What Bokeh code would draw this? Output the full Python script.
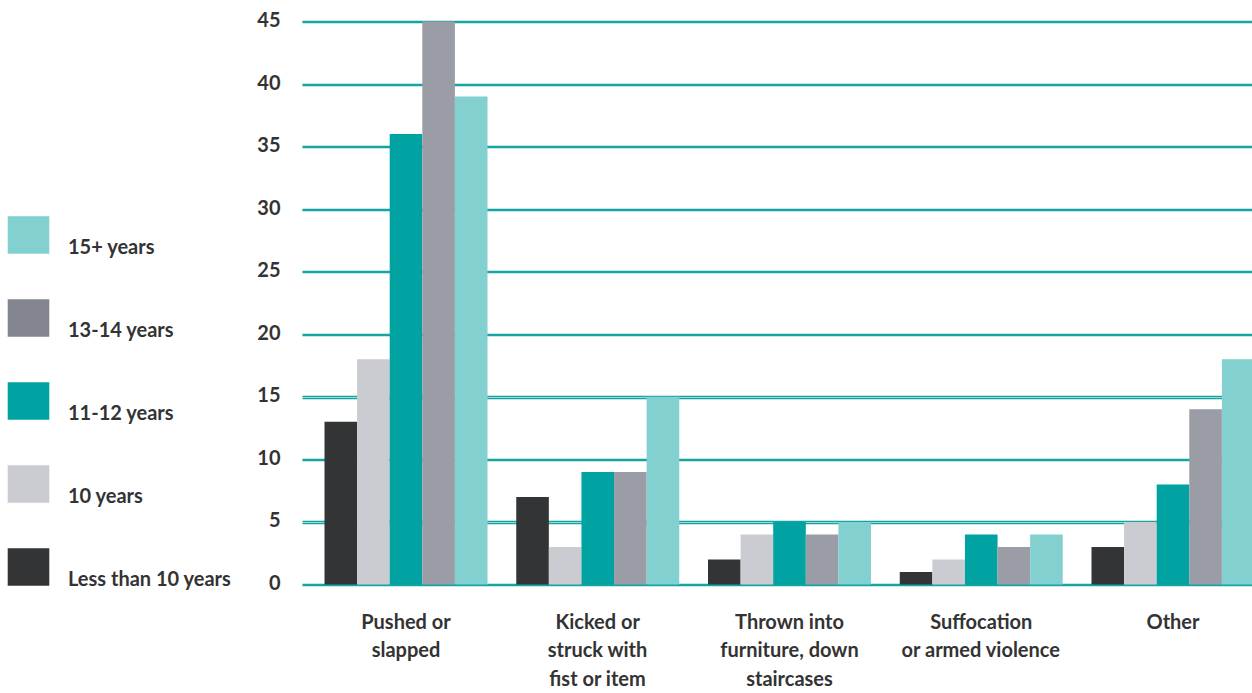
from bokeh.plotting import figure
from bokeh.models import (ColumnDataSource, Range1d, FixedTicker, Legend,
                          LegendItem, Grid)
from bokeh.core.properties import value
from bokeh.transform import dodge
from bokeh.embed import file_html
from bokeh.resources import INLINE

# Types of physical violence, by age group (%)
categories = [
    "Pushed or\nslapped",
    "Kicked or\nstruck with\nfist or item",
    "Thrown into\nfurniture, down\nstaircases",
    "Suffocation\nor armed violence",
    "Other",
]
age_groups = ["Less than 10 years", "10 years", "11-12 years", "13-14 years", "15+ years"]
less_than_10 = [13, 7, 2, 1, 3]
ten_years = [18, 3, 4, 2, 5]
eleven_twelve = [36, 9, 5, 4, 8]
thirteen_fourteen = [45, 9, 4, 3, 14]
fifteen_plus = [39, 15, 5, 4, 18]
y_ticks = [0, 5, 10, 15, 20, 25, 30, 35, 40, 45]

colors = ["#333436", "#cbccd1", "#00a2a2", "#9a9da5", "#82d0d0"]
legend_colors = ["#333436", "#cbccd1", "#00a2a2", "#83868e", "#82d0d0"]
series = [less_than_10, ten_years, eleven_twelve, thirteen_fourteen, fifteen_plus]
keys = ["s0", "s1", "s2", "s3", "s4"]

data = {"x": list(range(len(categories)))}
for k, s in zip(keys, series):
    data[k] = s
source = ColumnDataSource(data)

FONT = "Lato"
TEXT = "#333333"

# Layout in pixels: the frame spans the full width so that the legend and the
# value labels on the left are drawn inside it.
W, H = 1252, 693
FRAME_BOTTOM = 590
GROUP_PX = 191.75           # distance between category centres
FIRST_CENTER_PX = 405.5
GRID_LEFT_PX = 302
YLABEL_RIGHT_PX = 280
ZERO_PX = 584               # pixel row of value 0
UNIT_PX = 12.511            # pixels per percentage point
BAR_W = 32.6 / GROUP_PX

x_start = -FIRST_CENTER_PX / GROUP_PX
x_end = x_start + W / GROUP_PX
y_start = -(FRAME_BOTTOM - ZERO_PX) / UNIT_PX
y_end = ZERO_PX / UNIT_PX

p = figure(width=W, height=H, output_backend="svg", toolbar_location=None,
           x_range=Range1d(x_start, x_end), y_range=Range1d(y_start, y_end),
           min_border_left=0, min_border_right=0, min_border_top=0,
           min_border_bottom=H - FRAME_BOTTOM)
p.outline_line_color = None
p.background_fill_color = "white"
p.border_fill_color = "white"

for j, (k, c) in enumerate(zip(keys, colors)):
    p.vbar(x=dodge("x", (j - 2) * BAR_W), top=k, width=BAR_W, bottom=0,
           source=source, fill_color=c, line_color=None)

# zero-height bars that only serve as legend swatches
swatches = [p.vbar(x=[0], top=[0], bottom=[0], width=BAR_W, fill_color=c,
                   line_color=None)
            for c in legend_colors]

# gridlines: teal line with a pale teal line just underneath
grid_left = x_start + GRID_LEFT_PX / GROUP_PX
p.extra_y_ranges = {"shadow": Range1d(y_start + 0.1, y_end + 0.1)}
shadow = Grid(dimension=1, ticker=FixedTicker(ticks=y_ticks), y_range_name="shadow",
              grid_line_color="#9adada", grid_line_width=1.2,
              cross_bounds=(grid_left, x_end))
p.add_layout(shadow)
p.xgrid.visible = False
p.ygrid.ticker = FixedTicker(ticks=y_ticks)
p.ygrid.grid_line_color = "#16a4a4"
p.ygrid.grid_line_width = 1.6
p.ygrid.cross_bounds = (grid_left, x_end)

# value labels on the left of the gridlines
p.yaxis.visible = False
p.text(x=[x_start + YLABEL_RIGHT_PX / GROUP_PX] * len(y_ticks), y=y_ticks,
       text=[str(t) for t in y_ticks], text_align="right", text_baseline="middle",
       y_offset=-2,
       text_font=value(FONT), text_font_style="bold", text_font_size="20px",
       text_color=TEXT)

# x axis with category labels
p.xaxis.ticker = FixedTicker(ticks=list(range(len(categories))))
p.xaxis.major_label_overrides = {i: c for i, c in enumerate(categories)}
p.xaxis.axis_line_color = None
p.xaxis.major_tick_line_color = None
p.xaxis.minor_tick_line_color = None
p.xaxis.major_label_standoff = 12
p.xaxis.major_label_text_font = FONT
p.xaxis.major_label_text_font_style = "bold"
p.xaxis.major_label_text_font_size = "20px"
p.xaxis.major_label_text_color = TEXT
p.xaxis.major_label_text_line_height = 1.2

# legend in the left margin, labels dropped one line below the swatch centre
items = [LegendItem(label="\n" + age_groups[j], renderers=[swatches[j]])
         for j in range(4, -1, -1)]
legend = Legend(items=items, location=(2, 0), orientation="vertical",
                glyph_width=52, glyph_height=47, spacing=35, label_standoff=14,
                padding=0, margin=0, border_line_color=None,
                background_fill_alpha=0,
                label_text_font=FONT, label_text_font_style="bold",
                label_text_font_size="20px", label_text_color=TEXT,
                label_text_line_height=1.0)
p.add_layout(legend)

open("out.html", "w").write(file_html(p, INLINE))
